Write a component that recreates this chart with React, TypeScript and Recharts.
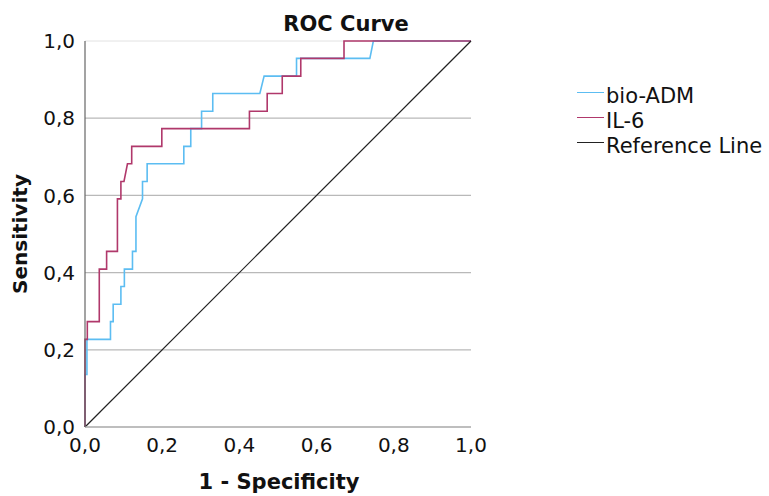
import { LineChart, Line, XAxis, YAxis, CartesianGrid, ReferenceLine } from 'recharts'

// ROC points (1 - specificity, sensitivity)
const bioAdmFpr = [0, 0, 0.005, 0.005, 0.066, 0.066, 0.073, 0.073, 0.093, 0.093, 0.102, 0.102, 0.123, 0.123, 0.132, 0.132, 0.149, 0.149, 0.161, 0.161, 0.256, 0.256, 0.274, 0.274, 0.302, 0.302, 0.331, 0.331, 0.453, 0.464, 0.548, 0.548, 0.738, 0.747, 1]
const bioAdmTpr = [0, 0.136, 0.136, 0.227, 0.227, 0.273, 0.273, 0.318, 0.318, 0.364, 0.364, 0.409, 0.409, 0.455, 0.455, 0.545, 0.591, 0.636, 0.636, 0.682, 0.682, 0.727, 0.727, 0.773, 0.773, 0.818, 0.818, 0.864, 0.864, 0.909, 0.909, 0.955, 0.955, 1, 1]

const il6Fpr = [0, 0, 0.006, 0.006, 0.037, 0.037, 0.056, 0.056, 0.084, 0.084, 0.093, 0.093, 0.101, 0.11, 0.121, 0.121, 0.199, 0.199, 0.426, 0.426, 0.472, 0.472, 0.511, 0.511, 0.559, 0.559, 0.671, 0.671, 1]
const il6Tpr = [0, 0.227, 0.227, 0.273, 0.273, 0.409, 0.409, 0.455, 0.455, 0.591, 0.591, 0.636, 0.636, 0.682, 0.682, 0.727, 0.727, 0.773, 0.773, 0.818, 0.818, 0.864, 0.864, 0.909, 0.909, 0.955, 0.955, 1, 1]

const refFpr = [0, 1]
const refTpr = [0, 1]

const ticks = [0, 0.2, 0.4, 0.6, 0.8, 1]
const gridValues = [0.2, 0.4, 0.6, 0.8]

const zip = (xs: number[], ys: number[]) => xs.map((x, i) => ({ x, y: ys[i] }))

const series = [
  { name: 'bio-ADM', color: '#5cbdf2', width: 1.6, data: zip(bioAdmFpr, bioAdmTpr) },
  { name: 'IL-6', color: '#b0386b', width: 1.6, data: zip(il6Fpr, il6Tpr) },
  { name: 'Reference Line', color: '#222222', width: 1.2, data: zip(refFpr, refTpr) },
]

const font = '"DejaVu Sans", sans-serif'
const fmt = (v: number) => v.toFixed(1).replace('.', ',')

const YTitle = (props: any) => {
  const { viewBox } = props
  const cx = viewBox.x + 20
  const cy = viewBox.y + viewBox.height / 2
  return (
    <text x={cx} y={cy} transform={`rotate(-90 ${cx} ${cy})`} textAnchor="middle" dominantBaseline="central"
      fontFamily={font} fontSize={20} fontWeight="bold" fill="#111">
      Sensitivity
    </text>
  )
}

const XTitle = (props: any) => {
  const { viewBox } = props
  return (
    <text x={viewBox.x + viewBox.width / 2 + 1} y={viewBox.y + 55} textAnchor="middle" dominantBaseline="central"
      fontFamily={font} fontSize={21} fontWeight="bold" fill="#111">
      1 - Specificity
    </text>
  )
}

export default function App() {
  return (
    <div style={{ position: 'absolute', left: 0, top: 0, width: 769, height: 496, background: '#fff', fontFamily: font }}>
      <LineChart width={769} height={496} margin={{ top: 41, right: 298, bottom: 0, left: 0 }}>
        <CartesianGrid vertical={false} horizontalValues={gridValues} stroke="#b9b9b9" strokeWidth={1.2} />
        <ReferenceLine y={1} stroke="#e2e2e2" strokeWidth={1} />
        <XAxis
          type="number"
          dataKey="x"
          domain={[0, 1]}
          ticks={ticks}
          tickFormatter={fmt}
          height={69}
          tickLine={false}
          tickMargin={5}
          axisLine={{ stroke: '#a8a8a8', strokeWidth: 1.5 }}
          tick={{ fill: '#111', fontSize: 20, fontFamily: font }}
          label={<XTitle />}
        />
        <YAxis
          type="number"
          dataKey="y"
          domain={[0, 1]}
          ticks={ticks}
          tickFormatter={fmt}
          width={85}
          tickLine={false}
          tickMargin={4}
          axisLine={{ stroke: '#666', strokeWidth: 1.2 }}
          tick={{ fill: '#111', fontSize: 20, fontFamily: font }}
          label={<YTitle />}
        />
        {series.map((s) => (
          <Line
            key={s.name}
            data={s.data}
            dataKey="y"
            name={s.name}
            type="linear"
            stroke={s.color}
            strokeWidth={s.width}
            dot={false}
            activeDot={false}
            isAnimationActive={false}
          />
        ))}
      </LineChart>
      <div style={{ position: 'absolute', left: 246, top: 10, width: 200, textAlign: 'center', fontSize: 21, fontWeight: 'bold', lineHeight: '28px', color: '#111' }}>
        ROC Curve
      </div>
      <div style={{ position: 'absolute', left: 577, top: 83 }}>
        {series.map((s) => (
          <div key={s.name} style={{ display: 'flex', alignItems: 'center', height: 25, fontSize: 21, color: '#111', whiteSpace: 'nowrap' }}>
            <span style={{ display: 'inline-block', width: 27, borderTop: `1.5px solid ${s.color}`, position: 'relative', top: -3, marginRight: 2 }} />
            {s.name}
          </div>
        ))}
      </div>
    </div>
  )
}
